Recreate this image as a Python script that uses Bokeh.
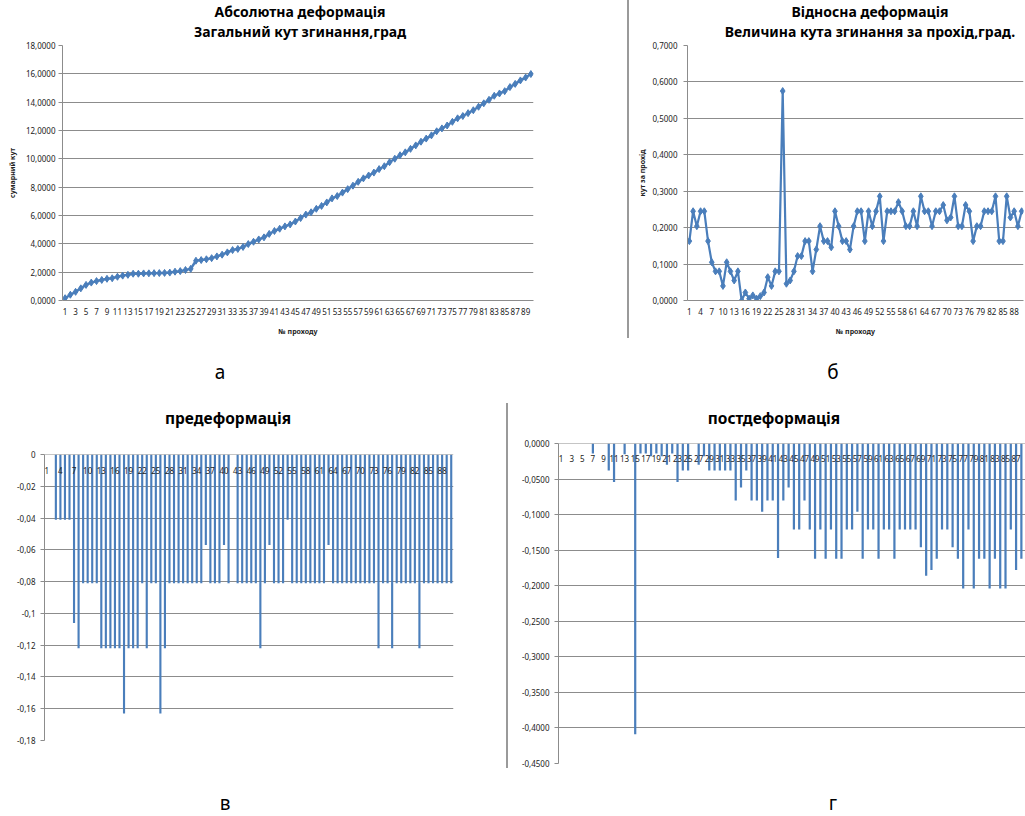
from bokeh.plotting import figure
from bokeh.layouts import row, column
from bokeh.models import (Range1d, LinearAxis, FixedTicker, CustomJSTickFormatter,
                          AllLabels, Div, Spacer)
from bokeh.embed import file_html
from bokeh.resources import INLINE

# ---- data -----------------------------------------------------------------
passes = list(range(1, 91))

# total bending angle after each pass, deg
total_angle = [
    0.163, 0.408, 0.612, 0.857, 1.102, 1.265, 1.370, 1.450, 1.530, 1.570,
    1.675, 1.755, 1.810, 1.890, 1.890, 1.912, 1.917, 1.931, 1.936, 1.948,
    1.970, 2.034, 2.074, 2.154, 2.234, 2.809, 2.855, 2.910, 2.990, 3.112,
    3.234, 3.397, 3.560, 3.640, 3.780, 3.984, 4.147, 4.310, 4.456, 4.701,
    4.905, 5.068, 5.231, 5.371, 5.575, 5.820, 6.065, 6.228, 6.473, 6.677,
    6.922, 7.208, 7.371, 7.616, 7.861, 8.106, 8.376, 8.621, 8.825, 9.029,
    9.274, 9.478, 9.764, 10.009, 10.254, 10.458, 10.703, 10.948, 11.210, 11.430,
    11.658, 11.944, 12.148, 12.352, 12.614, 12.859, 13.022, 13.226, 13.430, 13.675,
    13.920, 14.165, 14.451, 14.614, 14.777, 15.063, 15.291, 15.536, 15.740, 15.985,
]

# bending angle per pass, deg
pass_angle = [
    0.163, 0.245, 0.204, 0.245, 0.245, 0.163, 0.105, 0.080, 0.080, 0.040,
    0.105, 0.080, 0.055, 0.080, 0.000, 0.022, 0.005, 0.014, 0.005, 0.012,
    0.022, 0.064, 0.040, 0.080, 0.080, 0.575, 0.046, 0.055, 0.080, 0.122,
    0.122, 0.163, 0.163, 0.080, 0.140, 0.204, 0.163, 0.163, 0.146, 0.245,
    0.204, 0.163, 0.163, 0.140, 0.204, 0.245, 0.245, 0.163, 0.245, 0.204,
    0.245, 0.286, 0.163, 0.245, 0.245, 0.245, 0.270, 0.245, 0.204, 0.204,
    0.245, 0.204, 0.286, 0.245, 0.245, 0.204, 0.245, 0.245, 0.262, 0.220,
    0.228, 0.286, 0.204, 0.204, 0.262, 0.245, 0.163, 0.204, 0.204, 0.245,
    0.245, 0.245, 0.286, 0.163, 0.163, 0.286, 0.228, 0.245, 0.204, 0.245,
]

# pre-deformation per pass
pre_def = [
    0, 0, -0.041, -0.041, -0.041, -0.041, -0.106, -0.122, -0.081, -0.081,
    -0.081, -0.081, -0.122, -0.122, -0.122, -0.122, -0.122, -0.163, -0.122, -0.122,
    -0.122, -0.081, -0.122, -0.081, -0.081, -0.163, -0.122, -0.081, -0.081, -0.081,
    -0.081, -0.081, -0.081, -0.081, -0.081, -0.057, -0.081, -0.081, -0.081, -0.057,
    -0.081, 0, -0.081, -0.081, -0.081, -0.081, -0.081, -0.122, -0.081, -0.057,
    -0.081, -0.081, -0.081, -0.041, -0.081, -0.081, -0.081, -0.081, -0.081, -0.081,
    -0.081, -0.081, -0.057, -0.081, -0.081, -0.081, -0.081, -0.081, -0.081, -0.081,
    -0.081, -0.081, -0.081, -0.122, -0.081, -0.081, -0.122, -0.081, -0.081, -0.081,
    -0.081, -0.081, -0.122, -0.081, -0.081, -0.081, -0.081, -0.081, -0.081, -0.081,
]

# post-deformation per pass
post_def = [
    0, 0, 0, 0, 0, 0, -0.014, 0, 0, -0.038,
    -0.054, 0, -0.015, 0, -0.409, -0.014, -0.014, -0.018, -0.014, -0.018,
    -0.030, -0.014, -0.054, -0.038, -0.038, 0, -0.030, -0.018, -0.038, -0.038,
    -0.038, -0.038, -0.038, -0.080, -0.062, -0.038, -0.080, -0.080, -0.096, -0.080,
    -0.080, -0.161, -0.080, -0.062, -0.121, -0.121, -0.080, -0.121, -0.162, -0.121,
    -0.162, -0.121, -0.162, -0.162, -0.121, -0.121, -0.096, -0.162, -0.121, -0.121,
    -0.162, -0.121, -0.121, -0.162, -0.121, -0.121, -0.121, -0.121, -0.146, -0.186,
    -0.178, -0.162, -0.121, -0.121, -0.146, -0.162, -0.204, -0.121, -0.204, -0.162,
    -0.162, -0.204, -0.162, -0.204, -0.204, -0.121, -0.178, -0.162,
]

# tick positions
a_xticks = [1, 3, 5, 7, 9, 11, 13, 15, 17, 19, 21, 23, 25, 27, 29, 31, 33, 35, 37, 39,
            41, 43, 45, 47, 49, 51, 53, 55, 57, 59, 61, 63, 65, 67, 69, 71, 73, 75, 77,
            79, 81, 83, 85, 87, 89]
b_xticks = [1, 4, 7, 10, 13, 16, 19, 22, 25, 28, 31, 34, 37, 40, 43, 46, 49, 52, 55, 58,
            61, 64, 67, 70, 73, 76, 79, 82, 85, 88]
c_xticks = b_xticks
d_xticks = a_xticks
a_yticks = [0, 2, 4, 6, 8, 10, 12, 14, 16, 18]
b_yticks = [0, 0.1, 0.2, 0.3, 0.4, 0.5, 0.6, 0.7]
c_yticks = [0, -0.02, -0.04, -0.06, -0.08, -0.1, -0.12, -0.14, -0.16, -0.18]
d_yticks = [0, -0.05, -0.1, -0.15, -0.2, -0.25, -0.3, -0.35, -0.4, -0.45]

# ---- styling --------------------------------------------------------------
BLUE = "#4A7EBB"
GRID = "#8C8C8C"
TXT = "#222222"
FONT = "Noto Sans"
RULE = "#9a9a9a"


def fixed_fmt(digits):
    return CustomJSTickFormatter(args=dict(d=digits),
                                 code="return tick.toFixed(d).replace('.', ',');")


general_fmt = CustomJSTickFormatter(
    code="return parseFloat(tick.toFixed(2)).toString().replace('.', ',');")


def style_axis(ax, ticks, fmt=None, tick_out=4, standoff=3):
    ax.ticker = FixedTicker(ticks=ticks)
    if fmt is not None:
        ax.formatter = fmt
    ax.major_label_policy = AllLabels()
    ax.axis_line_color = GRID
    ax.major_tick_line_color = GRID
    ax.major_tick_out = tick_out
    ax.major_tick_in = 0
    ax.minor_tick_line_color = None
    ax.major_label_text_font = FONT
    ax.major_label_text_font_size = "8px"
    ax.major_label_text_color = TXT
    ax.major_label_standoff = standoff
    ax.axis_label_text_font = FONT
    ax.axis_label_text_font_size = "7px"
    ax.axis_label_text_font_style = "bold"
    ax.axis_label_text_color = TXT


def base_fig(width, height, xr, yr, borders, **kw):
    left, right, top, bottom = borders
    p = figure(width=width, height=height, x_range=xr, y_range=yr,
               output_backend="svg", toolbar_location=None, title=None,
               min_border_left=left, min_border_right=right,
               min_border_top=top, min_border_bottom=bottom, **kw)
    p.outline_line_color = None
    p.background_fill_color = "white"
    p.border_fill_color = None
    p.ygrid.grid_line_color = GRID
    for g in p.xgrid:
        g.visible = False
    return p


# ---- а: total bending angle ------------------------------------------------
pa = base_fig(627, 309, Range1d(0.5, 90.5), Range1d(0, 18), (62, 94, 4, 50))
style_axis(pa.yaxis[0], a_yticks, fixed_fmt(4))
pa.yaxis[0].axis_label = "сумарний кут"
pa.yaxis[0].axis_label_standoff = 6
style_axis(pa.xaxis[0], a_xticks, tick_out=0, standoff=7)
pa.xaxis[0].axis_label = "№ проходу"
pa.xaxis[0].axis_label_standoff = 9
pa.line(passes, total_angle, line_width=2.5, color=BLUE)
pa.scatter(passes, total_angle, marker="diamond", size=7, color=BLUE)

# ---- б: bending angle per pass --------------------------------------------
pb = base_fig(396, 309, Range1d(0.5, 90.5), Range1d(0, 0.7), (58, 2, 4, 50))
style_axis(pb.yaxis[0], b_yticks, fixed_fmt(4), standoff=6)
pb.yaxis[0].axis_label = "кут за прохід"
pb.yaxis[0].axis_label_standoff = 2
style_axis(pb.xaxis[0], b_xticks, tick_out=0, standoff=7)
pb.xaxis[0].axis_label = "№ проходу"
pb.xaxis[0].axis_label_standoff = 9
pb.line(passes, pass_angle, line_width=2.2, color=BLUE)
pb.scatter(passes, pass_angle, marker="diamond", size=7, color=BLUE)

# ---- в: pre-deformation ---------------------------------------------------
pc = base_fig(506, 321, Range1d(0.5, 90.5), Range1d(-0.18, 0), (44, 53, 8, 27),
              x_axis_location=None)
style_axis(pc.yaxis[0], c_yticks, general_fmt, standoff=5)
pc.vbar(x=passes, top=0, bottom=pre_def, width=0.47,
        fill_color=BLUE, line_color=None)
xc = LinearAxis(fixed_location=0)
style_axis(xc, c_xticks, tick_out=0, standoff=12)
pc.add_layout(xc, "below")

# ---- г: post-deformation --------------------------------------------------
pd_ = base_fig(517, 355, Range1d(0.5, 88.78), Range1d(-0.45, 0), (50, 0, 8, 27),
               x_axis_location=None)
style_axis(pd_.yaxis[0], d_yticks, fixed_fmt(4), standoff=5)
pd_.vbar(x=passes[:len(post_def)], top=0, bottom=post_def, width=0.42,
         fill_color=BLUE, line_color=None)
xd = LinearAxis(fixed_location=0)
style_axis(xd, d_xticks, tick_out=0, standoff=11)
pd_.add_layout(xd, "below")


# ---- page layout ----------------------------------------------------------
def vline(h):
    return Div(text=f'<div style="width:2px;height:{h}px;background:{RULE}"></div>',
               width=2, height=h, margin=0)


def text_band(h, items, rules=()):
    """A full-width strip of absolutely placed texts (and rule pieces)."""
    parts = []
    for s, cx, top, size, weight in items:
        parts.append(
            f'<div style="position:absolute;left:{cx - 250}px;width:500px;top:{top}px;'
            f'text-align:center;white-space:nowrap;font-size:{size}px;'
            f'line-height:{round(size * 1.15)}px;font-weight:{weight}">{s}</div>')
    for x, y0, y1 in rules:
        parts.append(f'<div style="position:absolute;left:{x}px;top:{y0}px;width:2px;'
                     f'height:{y1 - y0}px;background:{RULE}"></div>')
    html = (f'<div style="position:relative;width:1025px;height:{h}px;'
            f'font-family:\'Noto Sans\';color:#000">{"".join(parts)}</div>')
    return Div(text=html, width=1025, height=h, margin=0)


top_titles = text_band(41, [
    ("Абсолютна деформація", 300, 4, 14, 700),
    ("Загальний кут згинання,град", 300, 24, 14, 700),
    ("Відносна деформація", 870, 4, 14, 700),
    ("Величина кута згинання за прохід,град.", 870, 24, 14, 700),
], rules=[(627, 0, 41)])

top_row = row(pa, column(vline(297), Spacer(width=2, height=12, margin=0)), pb)

top_caps = text_band(40, [("а", 220, 11, 19, 400), ("б", 833, 11, 19, 400)])

bottom_titles = text_band(45, [
    ("предеформація", 228, 19, 15.5, 700),
    ("постдеформація", 774, 19, 15.5, 700),
], rules=[(506, 13, 45)])

left_bottom = column(Spacer(width=506, height=11, margin=0), pc,
                     Spacer(width=506, height=23, margin=0))
bottom_row = row(left_bottom, vline(333), pd_)

bottom_caps = text_band(26, [("в", 225, 2, 19, 400), ("г", 833, 2, 19, 400)])

page = column(top_titles, top_row, top_caps, bottom_titles, bottom_row, bottom_caps)

open("out.html", "w").write(file_html(page, INLINE))
